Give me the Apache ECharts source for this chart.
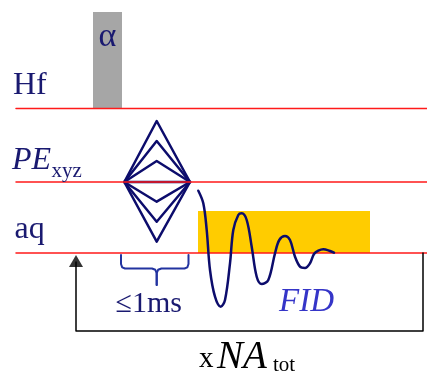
<!DOCTYPE html>
<html><head><meta charset="utf-8">
<script src="https://cdn.jsdelivr.net/npm/echarts@6/dist/echarts.min.js"></script>
<style>html,body{margin:0;padding:0;background:#fff}#c{width:427px;height:372px}</style>
</head><body><div id="c"></div>
<script>
// ---- data (diagram space: x 0..427, y 0..372 top-down) ----
const channelNames = ['Hf', 'PE', 'aq'];
const channelY = [108.5, 182, 253];
const channelXRange = [16, 427];

const pulseRect = [93, 12, 122, 108.5];      // RF pulse (alpha)
const acqRect = [198, 211, 370, 253];         // acquisition window

const gradX = [124.3, 156.7, 190];            // left, apex, right
const gradCenterY = 182;
const gradUpApex = [121, 141, 161];
const gradDownApex = [241.7, 221.7, 201.7];

const fidX = [198.3, 203.3, 206.7, 210, 215, 220.7, 225, 230, 233.3, 238.3, 241.7, 246.7, 251.7, 256.7, 261.7, 268.3, 275, 279.3, 285, 290, 295, 300, 305, 310, 314, 318.3, 323.3, 329.3, 334];
const fidY = [190.7, 203.3, 230, 270, 296.7, 306.7, 300, 263.3, 230, 215, 213.3, 220, 246.7, 276.7, 284, 280, 253.3, 240, 236, 240, 256.7, 266.7, 268, 263.3, 254, 250.7, 249.3, 250.7, 252.7];

const braceLeftX = [121, 121, 122.2, 125, 152, 155.3, 156.7, 156.7];
const braceRightX = [188.5, 188.5, 187.3, 184.5, 161.4, 158.1, 156.7, 156.7];
const braceY = [255, 264, 267.3, 268.5, 268.5, 269.8, 273, 285];

const loopX = [423, 423, 76, 76];
const loopY = [253, 331, 331, 262];
const arrowHead = [76, 261];

const labelTexts = ['α', 'Hf', 'PE', 'xyz', 'aq', '≤1ms', 'FID', 'x', 'NA', 'tot'];

// ---- build ----
const pairs = (xs, ys) => xs.map((x, i) => [x, ys[i]]);
const NAVY = '#191970';
const SERIF = "'Liberation Serif','Times New Roman','DejaVu Serif',serif";

function lineSeries(data, color, width, z, smooth) {
  return { type: 'line', data, showSymbol: false, symbol: 'none', smooth: smooth || false,
    lineStyle: { color, width, cap: 'round', join: 'round' }, z, silent: true, animation: false, clip: false };
}

const series = [];

// rectangles
series.push({
  type: 'custom', z: 1, silent: true, clip: false,
  data: [pulseRect.concat([0]), acqRect.concat([1])],
  renderItem(params, api) {
    const p0 = api.coord([api.value(0), api.value(1)]);
    const p1 = api.coord([api.value(2), api.value(3)]);
    return { type: 'rect', shape: { x: p0[0], y: p0[1], width: p1[0] - p0[0], height: p1[1] - p0[1] },
      style: { fill: api.value(4) === 0 ? '#a6a6a6' : '#ffcc00' } };
  }
});

// gradient diamonds
series.push(lineSeries([[gradX[0], gradCenterY], [gradX[2], gradCenterY]], '#0c0c6c', 2.5, 2));
for (let i = 0; i < 3; i++) {
  series.push(lineSeries([
    [gradX[0], gradCenterY], [gradX[1], gradUpApex[i]], [gradX[2], gradCenterY],
    [gradX[1], gradDownApex[i]], [gradX[0], gradCenterY]
  ], '#0c0c6c', 2.5, 2));
}

// channel baselines
channelY.forEach(y => series.push(lineSeries([[channelXRange[0], y], [channelXRange[1], y]], '#ff1a1a', 1.5, 3)));

// FID
series.push(lineSeries(pairs(fidX, fidY), '#0c0c6c', 2.5, 4, 0.35));

// brace
series.push(lineSeries(pairs(braceLeftX, braceY), '#2233a0', 2, 4));
series.push(lineSeries(pairs(braceRightX, braceY), '#2233a0', 2, 4));

// loop
series.push(lineSeries(pairs(loopX, loopY), '#000000', 1.5, 4));
series.push({ type: 'scatter', data: [arrowHead], symbol: 'triangle', symbolSize: [14, 12],
  itemStyle: { color: '#000' }, z: 5, silent: true, animation: false });

// texts: [x, baseline, index, fontSize, italic(0/1), colorIndex, align(0 left,1 center)]
const colors = [NAVY, '#000000', '#3535c8'];
const textItems = [
  [107.3, 45, 0, 34, 0, 0, 1],
  [13, 93.3, 1, 32, 0, 0, 0],
  [12, 168.3, 2, 32, 1, 0, 0],
  [51.5, 176.7, 3, 21, 0, 0, 0],
  [14.5, 237.5, 4, 32, 0, 0, 0],
  [115.5, 311.7, 5, 30, 0, 0, 0],
  [279, 310.7, 6, 33, 1, 2, 0],
  [199, 366.7, 7, 29, 0, 1, 0],
  [217, 366.7, 8, 39, 1, 1, 0],
  [273, 370.5, 9, 21, 0, 1, 0]
];
series.push({
  type: 'custom', z: 6, silent: true, clip: false, data: textItems,
  renderItem(params, api) {
    const fs = api.value(3);
    const p = api.coord([api.value(0), api.value(1)]);
    return { type: 'text', x: p[0], y: p[1] - 0.24 * fs,
      style: { text: labelTexts[api.value(2)], fill: colors[api.value(5)],
        font: (api.value(4) ? 'italic ' : '') + fs + 'px ' + SERIF,
        align: api.value(6) ? 'center' : 'left', verticalAlign: 'middle' } };
  }
});

const chart = echarts.init(document.getElementById('c'), null, { renderer: 'canvas' });
chart.setOption({
  animation: false,
  backgroundColor: '#fff',
  grid: { left: 0, right: 0, top: 0, bottom: 0 },
  xAxis: { type: 'value', min: 0, max: 427, show: false },
  yAxis: { type: 'value', min: 0, max: 372, inverse: true, show: false },
  series
});
</script></body></html>
